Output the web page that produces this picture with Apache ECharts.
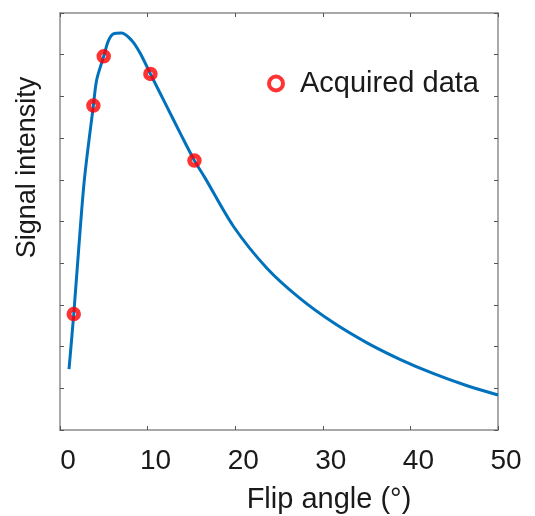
<!DOCTYPE html>
<html>
<head>
<meta charset="utf-8">
<script src="https://cdn.jsdelivr.net/npm/echarts@6/dist/echarts.min.js"></script>
<style>
html,body{margin:0;padding:0;background:#fff;}
#c{width:535px;height:516px;}
</style>
</head>
<body>
<div id="c"></div>
<script>
// Fitted curve (flip angle in degrees, signal in arbitrary units)
const curveX = [1.03, 1.57, 2.1, 2.78, 3.81, 4.19, 4.99, 5.52, 6.09, 7.05, 8.19, 9.14, 10.32, 12.0, 13.91, 15.35, 16.57, 19.81, 23.62, 27.43, 31.23, 35.05, 38.86, 42.66, 46.48, 50];
const curveY = [1.46, 2.78, 4.25, 6.0, 7.78, 8.40, 8.96, 9.33, 9.50, 9.52, 9.34, 9.04, 8.54, 7.84, 7.04, 6.46, 6.04, 4.88, 3.88, 3.15, 2.57, 2.09, 1.69, 1.35, 1.06, 0.84];
// Acquired data points
const dataX = [1.57, 3.81, 4.99, 10.32, 15.35];
const dataY = [2.78, 7.78, 8.96, 8.54, 6.46];
// Axis ticks
const xTicks = [0, 10, 20, 30, 40, 50];
const seriesName = 'Acquired data';
const xName = 'Flip angle (°)';
const yName = 'Signal intensity';

const font = '"Liberation Sans", Arial, sans-serif';
const axisGray = '#8c8c8c';
const tickGray = '#555';
const txt = '#1a1a1a';

const chart = echarts.init(document.getElementById('c'));
const boxAxis = {
  axisLine: {show: true, onZero: false, lineStyle: {color: axisGray, width: 1.5}},
  axisTick: {show: true, inside: true, length: 4, lineStyle: {color: tickGray, width: 1}},
  axisLabel: {show: false},
  splitLine: {show: false}
};
chart.setOption({
  animation: false,
  backgroundColor: '#fff',
  grid: {left: 60, right: 37, top: 13, bottom: 86, containLabel: false, outerBoundsMode: 'none'},
  legend: {
    data: [seriesName],
    left: 262, top: 64,
    itemWidth: 14, itemHeight: 14,
    itemStyle: {color: 'rgba(0,0,0,0)', borderColor: '#ff0000', borderWidth: 4},
    textStyle: {fontFamily: font, fontSize: 29, color: txt, padding: [0, 0, 0, 12]}
  },
  xAxis: [
    Object.assign({}, boxAxis, {
      type: 'value', min: xTicks[0], max: xTicks[xTicks.length - 1], interval: 10, position: 'bottom',
      axisLabel: {show: true, margin: 17, fontFamily: font, fontSize: 28, color: txt, padding: [0, 0, 0, 16]},
      name: xName, nameLocation: 'middle', nameGap: 55,
      nameTextStyle: {fontFamily: font, fontSize: 29, color: txt, padding: [0, 0, 0, 100]}
    }),
    Object.assign({}, boxAxis, {type: 'value', min: 0, max: 50, interval: 10, position: 'top'})
  ],
  yAxis: [
    Object.assign({}, boxAxis, {
      type: 'value', min: 0, max: 10, interval: 1, position: 'left',
      name: yName, nameLocation: 'middle', nameGap: 19,
      nameTextStyle: {fontFamily: font, fontSize: 27, color: txt, padding: [0, 0, 0, 108]}
    }),
    Object.assign({}, boxAxis, {type: 'value', min: 0, max: 10, interval: 1, position: 'right'})
  ],
  series: [
    {
      type: 'line',
      name: 'fit',
      data: curveX.map((x, i) => [x, curveY[i]]),
      showSymbol: false,
      smooth: 0.3,
      lineStyle: {color: '#0072BD', width: 3},
      z: 2
    },
    {
      type: 'scatter',
      name: seriesName,
      data: dataX.map((x, i) => [x, dataY[i]]),
      symbol: 'circle',
      symbolSize: 9.5,
      itemStyle: {color: 'rgba(0,0,0,0)', borderColor: '#ff0000', borderWidth: 5},
      z: 3
    }
  ]
});
</script>
</body>
</html>
